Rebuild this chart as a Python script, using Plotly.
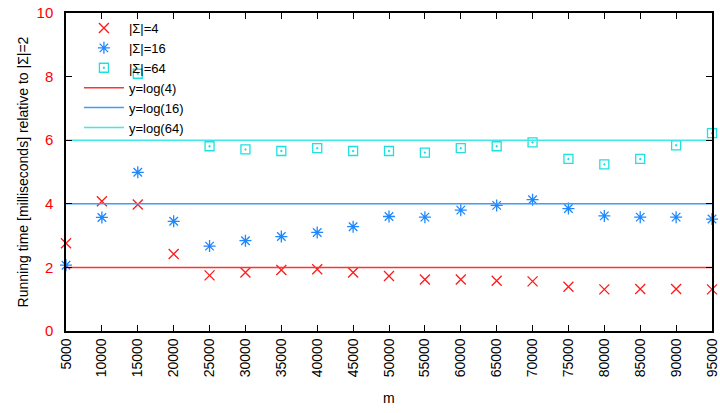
import numpy as np
import plotly.graph_objects as go

m_values = [5000, 10000, 15000, 20000, 25000, 30000, 35000, 40000, 45000, 50000,
            55000, 60000, 65000, 70000, 75000, 80000, 85000, 90000, 95000]
sigma4 = [2.76, 4.08, 3.98, 2.42, 1.75, 1.84, 1.92, 1.94, 1.84, 1.73,
          1.62, 1.62, 1.58, 1.56, 1.39, 1.31, 1.32, 1.32, 1.31]
sigma16 = [2.07, 3.57, 4.99, 3.45, 2.67, 2.84, 2.97, 3.10, 3.28, 3.60,
           3.58, 3.80, 3.95, 4.13, 3.85, 3.62, 3.58, 3.58, 3.52]
sigma64 = [None, None, 8.09, None, 5.81, 5.71, 5.66, 5.75, 5.66, 5.66,
           5.61, 5.75, 5.81, 5.93, 5.41, 5.24, 5.41, 5.84, 6.22]
alphabet_sizes = [4, 16, 64]
series_names = ["|Σ|=4", "|Σ|=16", "|Σ|=64"]
line_names = ["y=log(4)", "y=log(16)", "y=log(64)"]
y_ticks = [0, 2, 4, 6, 8, 10]

marker_colors = ["#ff1a1a", "#1e88ff", "#1ee0e0"]
line_colors = ["#ff3333", "#3c9cff", "#40e8e8"]
symbols = ["x-thin-open", "asterisk-open", "square-open-dot"]

FONT = "Liberation Sans, Arial, sans-serif"

fig = go.Figure()
for name, ys, col, sym in zip(series_names, [sigma4, sigma16, sigma64], marker_colors, symbols):
    fig.add_trace(go.Scatter(
        x=m_values, y=ys, mode="markers", name=name,
        marker=dict(symbol=sym, size=10 if sym != "square-open-dot" else 9,
                    color=col, line=dict(color=col, width=1.3)),
        cliponaxis=False,
    ))

for name, a, col in zip(line_names, alphabet_sizes, line_colors):
    v = float(np.log2(a))
    fig.add_trace(go.Scatter(
        x=[m_values[0], m_values[-1]], y=[v, v], mode="lines", name=name,
        line=dict(color=col, width=1.5),
    ))

fig.update_layout(
    width=720, height=413,
    margin=dict(l=66, r=8, t=13, b=82),
    paper_bgcolor="white", plot_bgcolor="white",
    font=dict(family=FONT, size=14, color="black"),
    showlegend=True,
    legend=dict(x=0.02, y=1.0, xanchor="left", yanchor="top",
                bgcolor="rgba(0,0,0,0)", font=dict(size=13),
                tracegroupgap=0, itemwidth=40),
    annotations=[dict(text="m", xref="paper", yref="paper", x=0.5, y=-0.211,
                      xanchor="center", yanchor="middle", showarrow=False,
                      font=dict(size=14, color="black"))],
)
fig.update_xaxes(
    range=[m_values[0], m_values[-1]], automargin=False,
    tickmode="array", tickvals=m_values, ticktext=[str(v) for v in m_values],
    tickangle=-90, ticks="inside", ticklen=6, tickcolor="black",
    showline=True, linecolor="black", linewidth=1.5, mirror="ticks",
    showgrid=False, zeroline=False, ticklabeloverflow="allow",
    tickfont=dict(size=14, color="black"),
)
fig.update_yaxes(
    range=[0, 10], automargin=False,
    tickmode="array", tickvals=y_ticks,
    ticks="inside", ticklen=6, tickcolor="black",
    showline=True, linecolor="black", linewidth=1.5, mirror="ticks",
    showgrid=False, zeroline=False,
    tickfont=dict(size=15, color="#ff0000"),
    ticklabelstandoff=8,
    title=dict(text="Running time [milliseconds] relative to |Σ|=2", font=dict(size=14), standoff=5),
)

fig.write_html("out.html", config={"displayModeBar": False},
               post_script="document.body.style.margin='0px';")
